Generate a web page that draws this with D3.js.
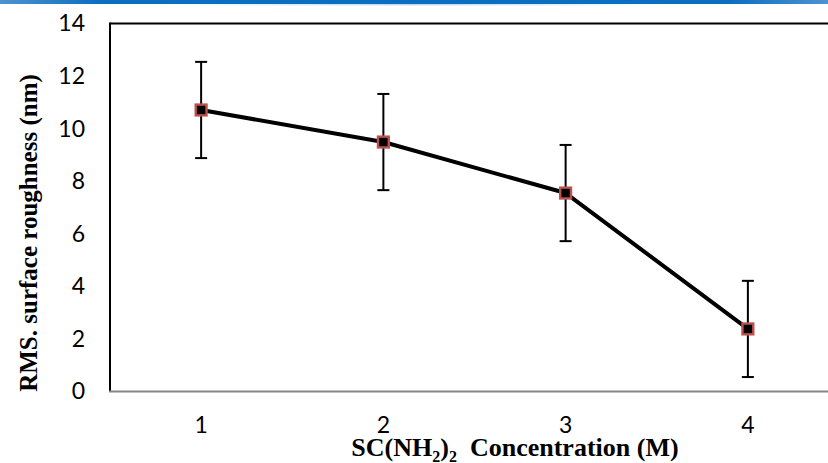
<!DOCTYPE html>
<html><head><meta charset="utf-8">
<script src="https://cdn.jsdelivr.net/npm/d3@7"></script>
<style>body{margin:0;background:#fff} svg{display:block}</style>
</head><body><svg id="chart" width="828" height="463"></svg>
<script>
// Thiourea concentration vs RMS surface roughness
const concentrations = ["1", "2", "3", "4"];
const roughness = [10.71, 9.49, 7.55, 2.38];
const roughnessErr = [1.83, 1.83, 1.83, 1.83];
const yTicks = [0, 2, 4, 6, 8, 10, 12, 14];

const W = 828, H = 463;
const svg = d3.select("#chart");

// header strip
const defs = svg.append("defs");
const g1 = defs.append("linearGradient").attr("id", "hdr").attr("x1", "0").attr("x2", "1");
g1.append("stop").attr("offset", "0").attr("stop-color", "#4f92d1");
g1.append("stop").attr("offset", "0.12").attr("stop-color", "#0a6fc0");
g1.append("stop").attr("offset", "0.88").attr("stop-color", "#0a6fc0");
g1.append("stop").attr("offset", "1").attr("stop-color", "#4f92d1");
svg.append("rect").attr("x", 0).attr("y", 0).attr("width", W).attr("height", 4).attr("fill", "url(#hdr)");
const g2 = defs.append("linearGradient").attr("id", "glow").attr("x1", "0").attr("x2", "1");
g2.append("stop").attr("offset", "0.2").attr("stop-color", "#bcd9f0").attr("stop-opacity", 0);
g2.append("stop").attr("offset", "0.5").attr("stop-color", "#bcd9f0").attr("stop-opacity", 1);
g2.append("stop").attr("offset", "0.8").attr("stop-color", "#bcd9f0").attr("stop-opacity", 0);
svg.append("rect").attr("x", 0).attr("y", 4).attr("width", W).attr("height", 1.5).attr("fill", "url(#glow)");

const plotLeft = 110, plotTop = 23.5, plotBottom = 391.5;
const x = d3.scaleBand().domain(concentrations).range([plotLeft, plotLeft + 4 * 182.25]);
const y = d3.scaleLinear().domain([0, 14]).range([plotBottom, plotTop]);
const cx = d => x(d) + x.bandwidth() / 2;

// plot frame: top and left edges
svg.append("line").attr("x1", plotLeft).attr("x2", W).attr("y1", plotTop).attr("y2", plotTop)
  .attr("stroke", "#000").attr("stroke-width", 2);
svg.append("line").attr("x1", plotLeft).attr("x2", plotLeft).attr("y1", plotTop - 1).attr("y2", plotBottom)
  .attr("stroke", "#000").attr("stroke-width", 2);

// y axis labels
const yAxis = svg.append("g").attr("transform", `translate(${plotLeft},0)`)
  .call(d3.axisLeft(y).tickValues(yTicks).tickSize(0).tickPadding(25));
yAxis.select(".domain").remove();
yAxis.selectAll("text").attr("font-family", "Lato, sans-serif").attr("font-size", 23).attr("fill", "#000");

// x axis
const xAxis = svg.append("g").attr("transform", `translate(0,${plotBottom})`)
  .call(d3.axisBottom(x).tickSize(0).tickPadding(25));
xAxis.select(".domain").remove();
xAxis.selectAll("text").attr("font-family", "Lato, sans-serif").attr("font-size", 23).attr("fill", "#000");
svg.append("line").attr("x1", plotLeft - 1).attr("x2", W).attr("y1", plotBottom).attr("y2", plotBottom)
  .attr("stroke", "#868686").attr("stroke-width", 2);

// error bars
const eb = svg.append("g").attr("stroke", "#000").attr("stroke-width", 2);
concentrations.forEach((c, i) => {
  const xc = cx(c), hi = y(roughness[i] + roughnessErr[i]), lo = y(roughness[i] - roughnessErr[i]);
  eb.append("line").attr("x1", xc).attr("x2", xc).attr("y1", hi).attr("y2", lo);
  eb.append("line").attr("x1", xc - 6).attr("x2", xc + 6).attr("y1", hi).attr("y2", hi);
  eb.append("line").attr("x1", xc - 6).attr("x2", xc + 6).attr("y1", lo).attr("y2", lo);
});

// series line
const line = d3.line().x((d, i) => cx(concentrations[i])).y(d => y(d));
svg.append("path").datum(roughness).attr("d", line)
  .attr("fill", "none").attr("stroke", "#000").attr("stroke-width", 4).attr("stroke-linejoin", "round");

// markers
svg.append("g").selectAll("rect").data(roughness).join("rect")
  .attr("x", (d, i) => cx(concentrations[i]) - 5.4)
  .attr("y", d => y(d) - 5.4)
  .attr("width", 10.8).attr("height", 10.8)
  .attr("fill", "#000").attr("stroke", "#c0504d").attr("stroke-width", 2.4);

// axis titles
svg.append("text")
  .attr("transform", `translate(37,233) rotate(-90)`)
  .attr("text-anchor", "middle")
  .attr("font-family", "'Liberation Serif', 'Times New Roman', serif")
  .attr("font-weight", "bold").attr("font-size", 25).attr("fill", "#000")
  .text("RMS. surface roughness (nm)");

const xt = svg.append("text")
  .attr("x", 515).attr("y", 456)
  .attr("text-anchor", "middle")
  .attr("font-family", "'Liberation Serif', 'Times New Roman', serif")
  .attr("font-weight", "bold").attr("font-size", 26).attr("fill", "#000");
xt.append("tspan").text("SC(NH");
xt.append("tspan").attr("font-size", 16).attr("dy", 6).text("2");
xt.append("tspan").attr("dy", -6).text(")");
xt.append("tspan").attr("font-size", 16).attr("dy", 6).text("2");
xt.append("tspan").attr("dy", -6).text("\u00a0 Concentration (M)");
</script></body></html>
